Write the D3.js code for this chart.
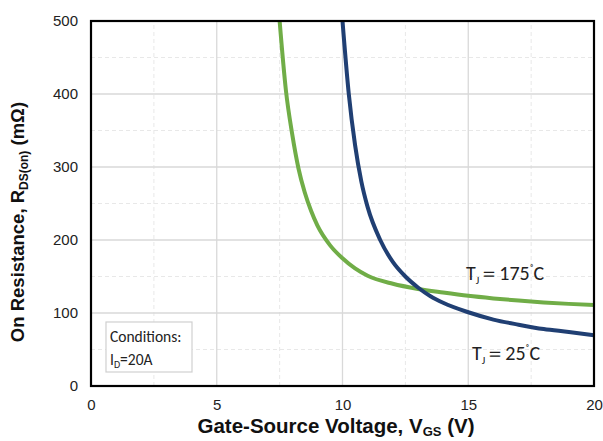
<!DOCTYPE html>
<html><head><meta charset="utf-8">
<script src="https://cdn.jsdelivr.net/npm/d3@7"></script>
<style>body{margin:0;background:#fff}svg{display:block}</style>
</head><body>
<script>
const vgs25 = [10, 10.25, 10.5, 10.75, 11, 11.5, 12, 12.5, 13, 13.5, 14, 15, 16, 17, 18, 19, 20];
const r25   = [500, 400, 330, 280, 245, 200, 170, 150, 135, 123, 114, 101, 91, 84, 78, 74, 69.5];
const vgs175 = [7.5, 7.75, 8, 8.25, 8.5, 8.75, 9, 9.5, 10, 10.5, 11, 12, 13, 14, 15, 16, 17, 18, 19, 20];
const r175   = [500, 405, 345, 298, 265, 240, 220, 193, 175, 161, 151, 140, 133, 128, 123.5, 120, 117, 114.5, 112.5, 111];
const xTicks = [0, 5, 10, 15, 20];
const yTicks = [0, 100, 200, 300, 400, 500];
const xMinor = [2.5, 7.5, 12.5, 17.5];
const yMinor = [50, 150, 250, 350, 450];

const W = 603, H = 441;
const m = {l: 91, r: 9, t: 21, b: 55};
const svg = d3.select("body").append("svg").attr("width", W).attr("height", H);
const x = d3.scaleLinear().domain([0, 20]).range([m.l, W - m.r]);
const y = d3.scaleLinear().domain([0, 500]).range([H - m.b, m.t]);

// minor grid
svg.append("g").selectAll("line").data(xMinor).join("line")
  .attr("x1", d => x(d)).attr("x2", d => x(d)).attr("y1", y(0)).attr("y2", y(500))
  .attr("stroke", "#e8e8e8").attr("stroke-dasharray", "4,3");
svg.append("g").selectAll("line").data(yMinor).join("line")
  .attr("y1", d => y(d)).attr("y2", d => y(d)).attr("x1", x(0)).attr("x2", x(20))
  .attr("stroke", "#e8e8e8").attr("stroke-dasharray", "4,3");
// major grid
svg.append("g").selectAll("line").data(xTicks).join("line")
  .attr("x1", d => x(d)).attr("x2", d => x(d)).attr("y1", y(0)).attr("y2", y(500))
  .attr("stroke", "#d9d9d9").attr("stroke-width", 1.3);
svg.append("g").selectAll("line").data(yTicks).join("line")
  .attr("y1", d => y(d)).attr("y2", d => y(d)).attr("x1", x(0)).attr("x2", x(20))
  .attr("stroke", "#d9d9d9").attr("stroke-width", 1.3);

// axes (labels)
const xa = svg.append("g").attr("transform", `translate(0,${y(0)})`)
  .call(d3.axisBottom(x).tickValues(xTicks).tickSize(0).tickPadding(13));
const ya = svg.append("g").attr("transform", `translate(${x(0)},0)`)
  .call(d3.axisLeft(y).tickValues(yTicks).tickSize(0).tickPadding(13));
[xa, ya].forEach(a => {
  a.select(".domain").remove();
  a.selectAll("text").attr("font-family", "Liberation Sans, Arial, sans-serif")
    .attr("font-size", 15).attr("fill", "#222");
});

// conditions box
svg.append("rect").attr("x", 106).attr("y", 322).attr("width", 86).attr("height", 50)
  .attr("fill", "#fff").attr("stroke", "#d0d0d0").attr("stroke-width", 1.2);
const cf = "Carlito, Lato, 'Open Sans', sans-serif";
svg.append("text").attr("x", 110).attr("y", 342).attr("font-family", cf).attr("font-size", 15.5)
  .attr("fill", "#222").text("Conditions:");
const t2 = svg.append("text").attr("x", 110).attr("y", 365).attr("font-family", cf).attr("font-size", 15.5).attr("fill", "#222");
t2.append("tspan").text("I");
t2.append("tspan").attr("font-size", 10).attr("dy", 3).text("D");
t2.append("tspan").attr("dy", -3).text("=20A");

// curves
const line = d3.line().x(d => x(d[0])).y(d => y(d[1])).curve(d3.curveMonotoneX);
svg.append("path").datum(vgs175.map((v, i) => [v, r175[i]])).attr("d", line)
  .attr("fill", "none").attr("stroke", "#70ad47").attr("stroke-width", 4);
svg.append("path").datum(vgs25.map((v, i) => [v, r25[i]])).attr("d", line)
  .attr("fill", "none").attr("stroke", "#203f73").attr("stroke-width", 4);

// frame
svg.append("rect").attr("x", x(0)).attr("y", y(500)).attr("width", x(20) - x(0)).attr("height", y(0) - y(500))
  .attr("fill", "none").attr("stroke", "#000").attr("stroke-width", 2.2);

// curve labels
function tj(xp, yp, temp) {
  const t = svg.append("text").attr("x", xp).attr("y", yp).attr("font-family", cf)
    .attr("font-size", 20).attr("fill", "#222");
  t.append("tspan").text("T");
  t.append("tspan").attr("font-size", 11).attr("dy", 4).text("J");
  t.append("tspan").attr("dy", -4).text("\uFF1D" + temp);
  t.append("tspan").attr("font-size", 12).attr("dy", -7).text("\u02DA");
  t.append("tspan").attr("dy", 7).text("C");
}
tj(466, 280, "175");
tj(472, 360, "25");

// axis titles
const af = "Liberation Sans, Arial, sans-serif";
const xt = svg.append("text").attr("x", 336).attr("y", 433).attr("text-anchor", "middle")
  .attr("font-family", af).attr("font-weight", "bold").attr("font-size", 20.5).attr("fill", "#111");
xt.append("tspan").text("Gate-Source Voltage, V");
xt.append("tspan").attr("font-size", 13).attr("dy", 3).text("GS");
xt.append("tspan").attr("dy", -3).text(" (V)");

const yt = svg.append("text").attr("transform", "translate(24,222) rotate(-90)").attr("text-anchor", "middle")
  .attr("font-family", af).attr("font-weight", "bold").attr("font-size", 18.5).attr("fill", "#111");
yt.append("tspan").text("On Resistance, R");
yt.append("tspan").attr("font-size", 12).attr("dy", 4).text("DS(on)");
yt.append("tspan").attr("dy", -4).text(" (m\u03A9)");
</script>
</body></html>
